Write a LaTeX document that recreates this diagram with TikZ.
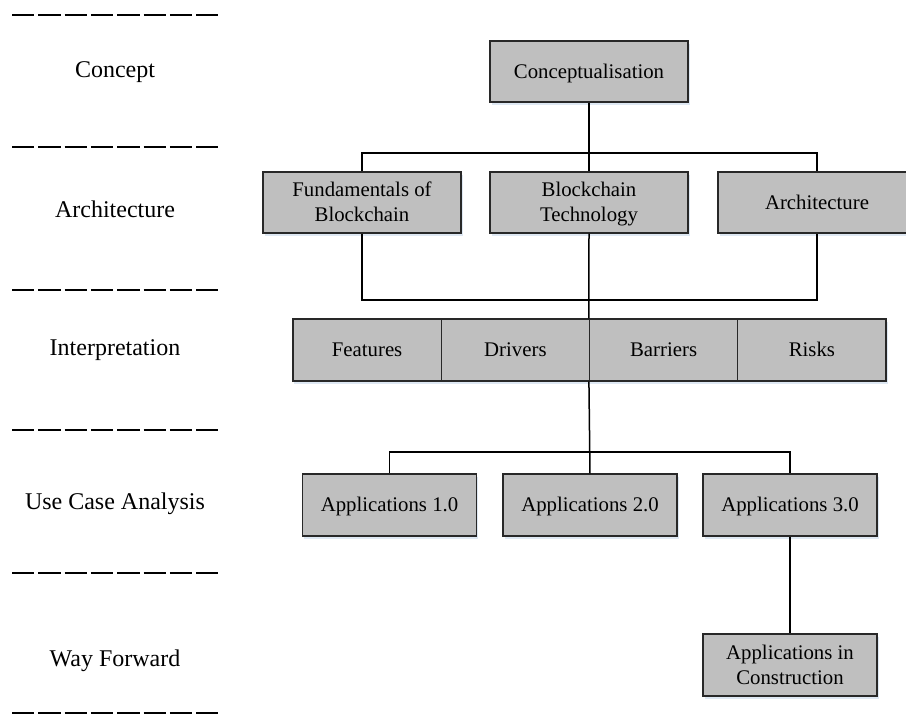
\documentclass[tikz,border=0pt]{standalone}
\usepackage{fontspec}
\setmainfont{Liberation Serif}
\usetikzlibrary{shadows}
\definecolor{boxgray}{RGB}{191,191,191}
\definecolor{boxedge}{RGB}{40,40,40}
\definecolor{shadowblue}{RGB}{214,226,240}
\tikzset{
  box/.style={draw=boxedge, line width=1.1pt, fill=boxgray, align=center,
    inner sep=0pt, minimum height=61pt,
    font=\fontsize{20.8pt}{25pt}\selectfont,
    drop shadow={shadow xshift=1.5pt, shadow yshift=-3pt, fill=shadowblue, opacity=0.8}},
  oneline/.style={text height=18pt, text depth=4.4pt},
  twoline/.style={text height=39pt, text depth=0.4pt},
  widebox/.style={box, minimum width=198pt},
  appbox/.style={box, minimum width=174pt, minimum height=62pt},
  cellbox/.style={box, minimum width=148.25pt, minimum height=62pt},
  conn/.style={line width=1.5pt, black},
  levelsep/.style={line width=2.2pt, black, dash pattern=on 22.3pt off 4pt},
  levellabel/.style={font=\fontsize{24pt}{28pt}\selectfont, inner sep=0pt}
}
\begin{document}
\begin{tikzpicture}[x=1pt, y=-1pt]
\useasboundingbox (0,0) rectangle (906,720);
\clip (0,0) rectangle (906,720);
% level separators
\foreach \yy in {15,147,290,430,573,713} \draw[levelsep] (12,\yy) -- (218,\yy);
% level labels
\node[levellabel] (lc) at (115,72) {Concept};
\node[levellabel] (la) at (115,209) {Architecture};
\node[levellabel] (li) at (115,350) {Interpretation};
\node[levellabel] (lu) at (115,504) {Use Case Analysis};
\node[levellabel] (lw) at (115,661) {Way Forward};
% boxes
\node[widebox, oneline] (concept) at (589,71.5) {Conceptualisation};
\node[widebox, twoline] (fund) at (362,202.5) {Fundamentals of\\Blockchain};
\node[widebox, twoline] (bt) at (589,202.5) {Blockchain\\Technology};
\node[widebox, oneline] (arch) at (817,202.5) {Architecture};
\node[cellbox, oneline] (feat) at (367.1,350) {Features};
\node[cellbox, oneline] (driv) at (515.4,350) {Drivers};
\node[cellbox, oneline] (barr) at (663.6,350) {Barriers};
\node[cellbox, oneline] (risk) at (811.9,350) {Risks};
\node[appbox, oneline] (app1) at (389.5,505) {Applications 1.0};
\node[appbox, oneline] (app2) at (590,505) {Applications 2.0};
\node[appbox, oneline] (app3) at (790,505) {Applications 3.0};
\node[appbox, twoline] (cons) at (790,665) {Applications in\\Construction};
% junctions
\coordinate (j1) at (589,153);
\coordinate (j2) at (589,300);
\coordinate (j3) at (590,452);
% connectors
\draw[conn] (concept.south) -- (bt.north);
\draw[conn] (fund.north) |- (j1) -| (arch.north);
\draw[conn] (fund.south) |- (j2) -| (arch.south);
\draw[conn] (bt.south) -- (barr.north west);
\draw[conn] (app1.north) |- (j3) -| (app3.north);
\draw[conn] (barr.south west) -- (app2.north);
\draw[conn] (app3.south) -- (cons.north);
\end{tikzpicture}
\end{document}
